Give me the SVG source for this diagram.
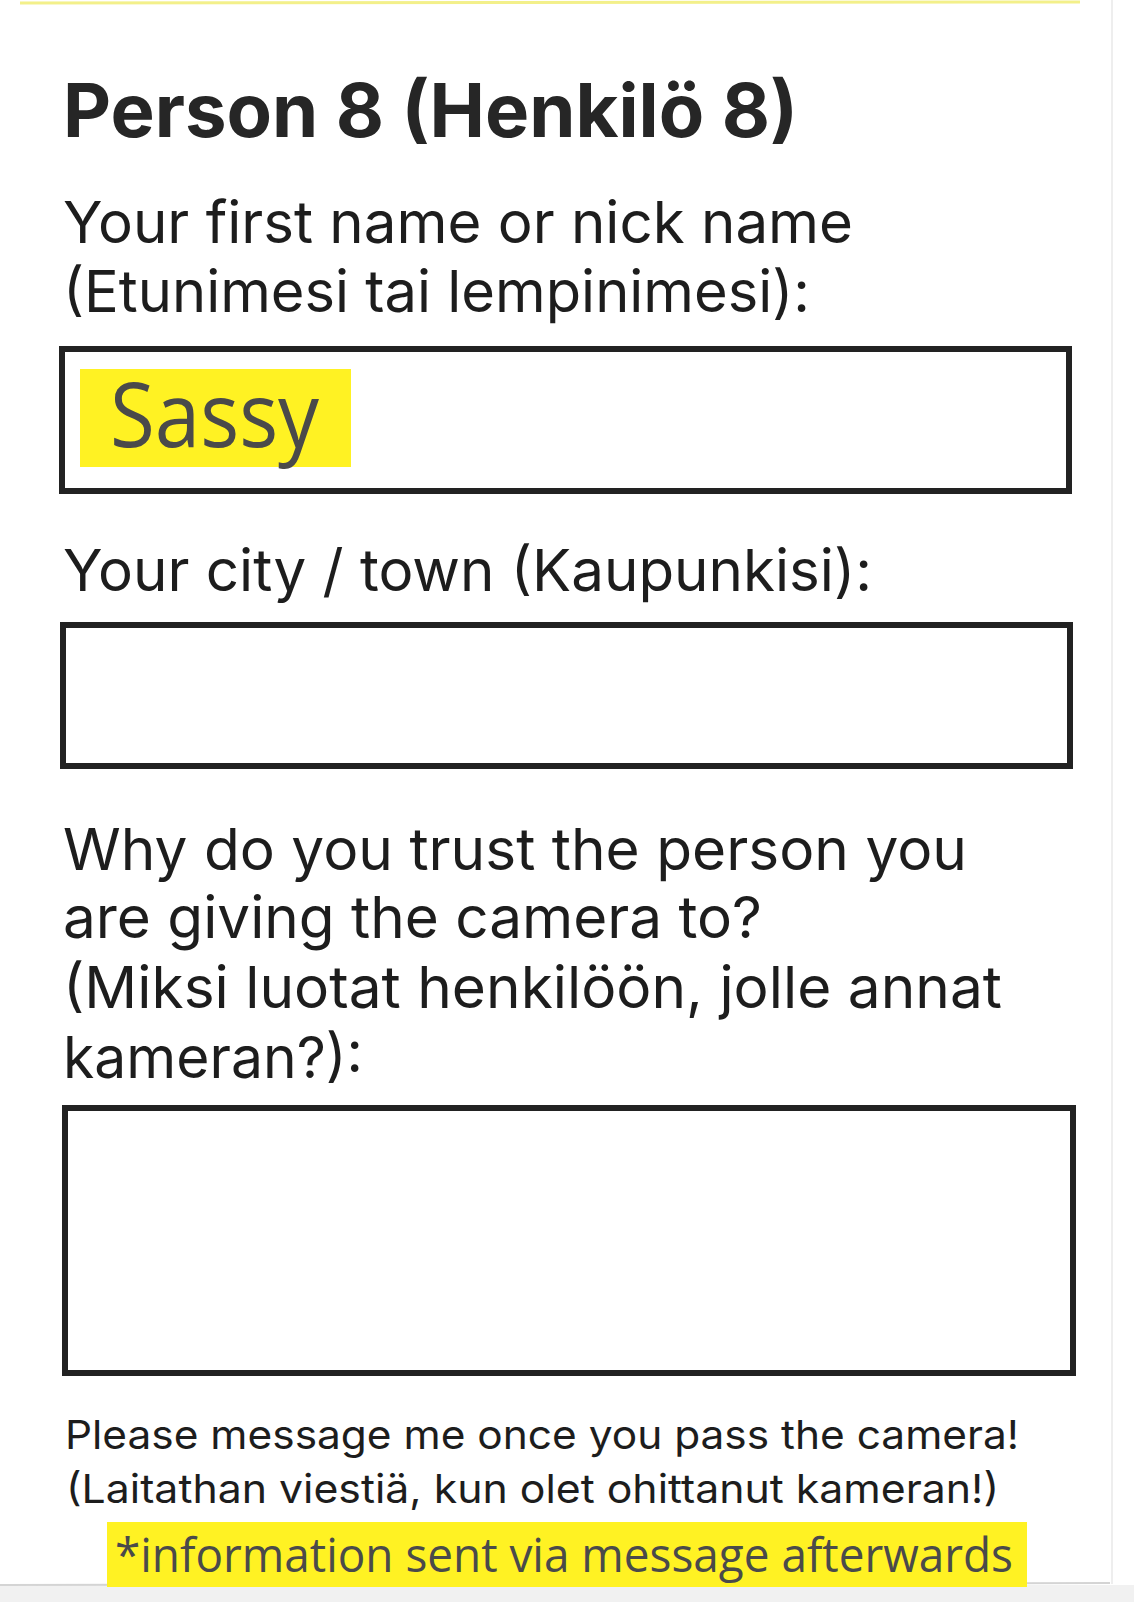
<svg xmlns="http://www.w3.org/2000/svg" width="1134" height="1602" viewBox="0 0 1134 1602">
  <style>
    .lbl { font-family: Inter, "Liberation Sans", sans-serif; font-size: 58px; fill: #1d1d1d; }
    .title { font-family: Inter, "Liberation Sans", sans-serif; font-size: 74px; font-weight: 700; fill: #262626; }
    .small { font-family: Inter, "Liberation Sans", sans-serif; font-size: 40px; fill: #1d1d1d; }
    .hand { font-family: "Open Sans", "Noto Sans", sans-serif; fill: #4a4a4a; }
    .box { fill: #ffffff; stroke: #222222; stroke-width: 6; }
    .hl { fill: #fff223; }
  </style>
  <rect x="0" y="0" width="1134" height="1602" fill="#ffffff"/>
  <!-- scan edges -->
  <line x1="20" y1="3" x2="1080" y2="2" stroke="#f3f08a" stroke-width="3"/>
  <line x1="1112" y1="0" x2="1112" y2="1584" stroke="#eeeeee" stroke-width="2"/>
  <rect x="0" y="1585" width="1134" height="17" fill="#f1f1f1"/>
  <line x1="0" y1="1585" x2="1110" y2="1583" stroke="#d4d4d4" stroke-width="2"/>

  <g id="title">
    <text class="title" x="63" y="137" textLength="735" lengthAdjust="spacingAndGlyphs">Person 8 (Henkilö 8)</text>
  </g>

  <g id="name-field">
    <text class="lbl" x="63" y="243" textLength="790" lengthAdjust="spacingAndGlyphs">Your first name or nick name</text>
    <text class="lbl" x="63" y="312" textLength="747" lengthAdjust="spacingAndGlyphs">(Etunimesi tai lempinimesi):</text>
    <rect class="box" x="62" y="349" width="1007" height="142"/>
    <rect class="hl" x="80" y="369" width="271" height="98"/>
    <text class="hand" x="110" y="447" font-size="90" textLength="209" lengthAdjust="spacingAndGlyphs">Sassy</text>
  </g>

  <g id="city-field">
    <text class="lbl" x="63" y="591" textLength="809" lengthAdjust="spacingAndGlyphs">Your city / town (Kaupunkisi):</text>
    <rect class="box" x="63" y="625" width="1007" height="141"/>
  </g>

  <g id="trust-field">
    <text class="lbl" x="63" y="870" textLength="904" lengthAdjust="spacingAndGlyphs">Why do you trust the person you</text>
    <text class="lbl" x="63" y="938" textLength="699" lengthAdjust="spacingAndGlyphs">are giving the camera to?</text>
    <text class="lbl" x="63" y="1008" textLength="939" lengthAdjust="spacingAndGlyphs">(Miksi luotat henkilöön, jolle annat</text>
    <text class="lbl" x="63" y="1078" textLength="300" lengthAdjust="spacingAndGlyphs">kameran?):</text>
    <rect class="box" x="65" y="1108" width="1008" height="265"/>
  </g>

  <g id="footer">
    <text class="small" x="65" y="1449" textLength="954" lengthAdjust="spacingAndGlyphs">Please message me once you pass the camera!</text>
    <text class="small" x="66" y="1503" textLength="933" lengthAdjust="spacingAndGlyphs">(Laitathan viestiä, kun olet ohittanut kameran!)</text>
    <rect class="hl" x="107" y="1522" width="920" height="65"/>
    <text class="hand" x="115" y="1572" font-size="48" textLength="898" lengthAdjust="spacingAndGlyphs">*information sent via message afterwards</text>
  </g>
</svg>
